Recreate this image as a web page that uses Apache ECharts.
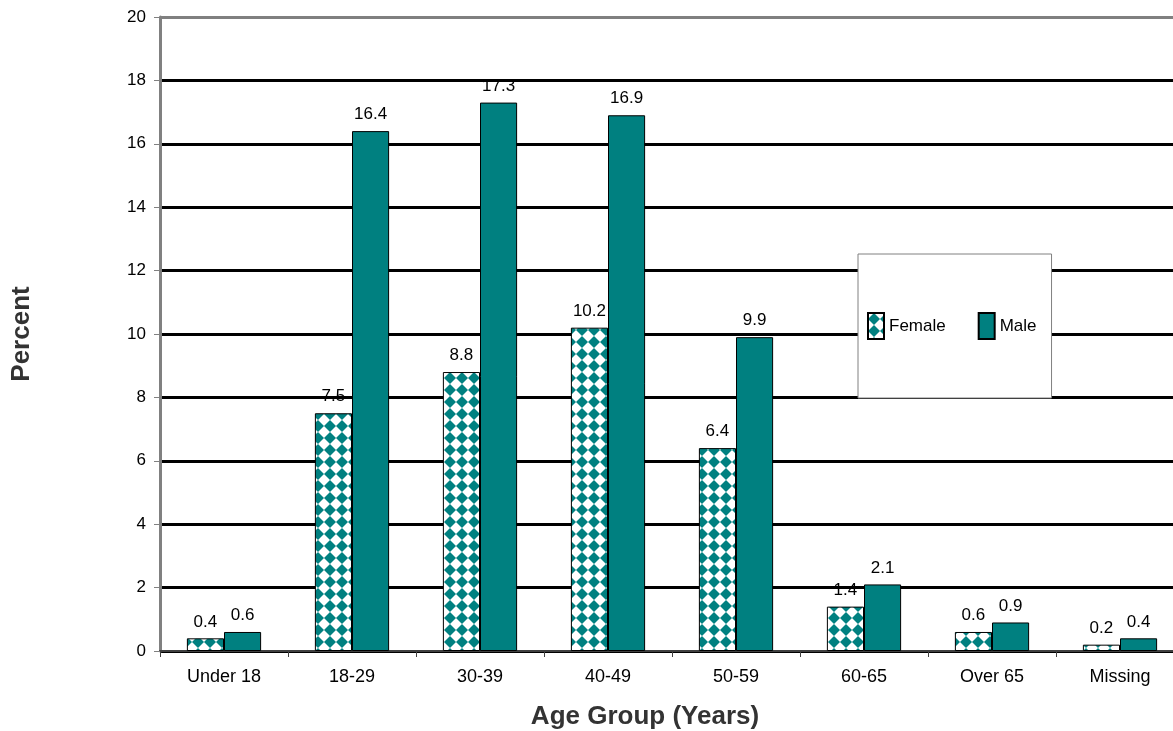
<!DOCTYPE html>
<html><head><meta charset="utf-8">
<script src="https://cdn.jsdelivr.net/npm/echarts@6/dist/echarts.min.js"></script>
<style>html,body{margin:0;padding:0;background:#fff}#c{width:1173px;height:731px}</style>
</head><body><div id="c"></div>
<script>
const categories = ['Under 18','18-29','30-39','40-49','50-59','60-65','Over 65','Missing'];
const female = [0.4, 7.5, 8.8, 10.2, 6.4, 1.4, 0.6, 0.2];
const male = [0.6, 16.4, 17.3, 16.9, 9.9, 2.1, 0.9, 0.4];
const TEAL = '#008080';

const pc = document.createElement('canvas');
pc.width = 12; pc.height = 12;
const g = pc.getContext('2d');
g.fillStyle = '#fff'; g.fillRect(0,0,12,12);
g.fillStyle = TEAL;
g.beginPath(); g.moveTo(6,0); g.lineTo(12,6); g.lineTo(6,12); g.lineTo(0,6); g.closePath(); g.fill();
const pattern = {image: pc, repeat: 'repeat'};

const splitColors = [];
for (let i = 0; i < 10; i++) splitColors.push('#000');
splitColors.push('#808080');

const FONT = 'Liberation Sans, Arial, sans-serif';
const chart = echarts.init(document.getElementById('c'));
chart.setOption({
  animation: false,
  textStyle: {fontFamily: FONT},
  grid: {left: 160, top: 17, right: -11, bottom: 80, containLabel: false, outerBoundsMode: 'none'},
  legend: {
    left: 858, top: 254,
    backgroundColor: '#fff', borderColor: '#808080', borderWidth: 1,
    padding: [58, 15, 58, 9],
    icon: 'rect',
    itemWidth: 16, itemHeight: 26, itemGap: 32,
    textStyle: {fontSize: 17, color: '#000', fontFamily: FONT},
    data: ['Female', 'Male']
  },
  xAxis: {
    type: 'category', data: categories,
    axisLine: {lineStyle: {color: '#404040', width: 2}},
    axisTick: {show: true, length: 6, lineStyle: {color: '#404040'}},
    axisLabel: {fontSize: 18, color: '#000', margin: 17},
    name: 'Age Group (Years)', nameLocation: 'middle', nameGap: 53,
    nameTextStyle: {fontSize: 26, fontWeight: 'bold', color: '#333', padding: [0, 54, 0, 0]}
  },
  yAxis: {
    type: 'value', min: 0, max: 20, interval: 2,
    axisLine: {show: true, lineStyle: {color: '#808080', width: 3}},
    axisTick: {show: true, length: 6, lineStyle: {color: '#808080'}},
    axisLabel: {fontSize: 17, color: '#000', margin: 14},
    splitLine: {show: true, lineStyle: {color: splitColors, width: 3}},
    name: 'Percent', nameLocation: 'middle', nameGap: 125, nameRotate: 90,
    nameTextStyle: {fontSize: 26, fontWeight: 'bold', color: '#333'}
  },
  series: [
    {
      name: 'Female', type: 'bar', data: female,
      barGap: '0%', barCategoryGap: '42%',
      itemStyle: {color: pattern, borderColor: '#000', borderWidth: 1},
      label: {show: true, position: 'top', distance: 8, fontSize: 17, color: '#000'}
    },
    {
      name: 'Male', type: 'bar', data: male,
      itemStyle: {color: TEAL, borderColor: '#000', borderWidth: 1},
      label: {show: true, position: 'top', distance: 8, fontSize: 17, color: '#000'}
    }
  ]
});
</script></body></html>
